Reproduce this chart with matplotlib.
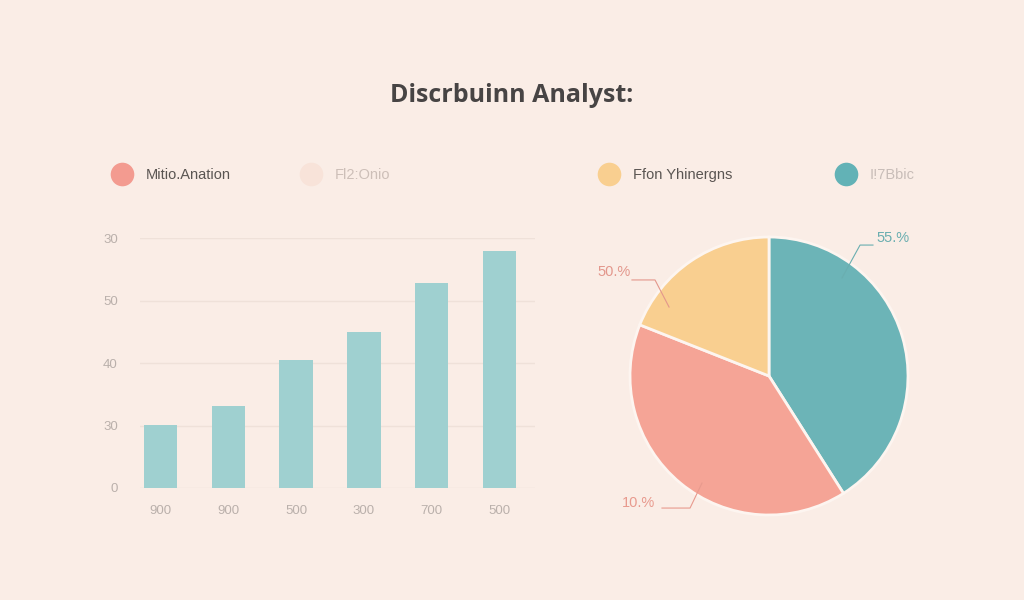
import numpy as np
import matplotlib.pyplot as plt

# bar chart data
bar_labels = ["900", "900", "500", "300", "700", "500"]
bar_values = [10.1, 13.1, 20.5, 25.0, 32.8, 37.9]
ytick_pos = [0, 10, 20, 30, 40]
ytick_labels = ["0", "30", "40", "50", "30"]

# pie data
pie_shares = [41, 40, 19]
pie_labels = ["55.%", "10.%", "50.%"]
pie_colors = ["#6cb4b7", "#f5a496", "#f9cf90"]
label_colors = ["#6aaeb0", "#e89a8e", "#e3978c"]

# legend
legend_names = ["Mitio.Anation", "Fl2:Onio", "Ffon Yhinergns", "I!7Bbic"]
legend_colors = ["#f39b90", "#f8e3d9", "#f9cf90", "#62b2b6"]
legend_text_colors = ["#5a5552", "#cdbfb8", "#5a5552", "#c8bdb8"]

bg = "#faede6"
bar_color = "#9fd0d0"

fig = plt.figure(figsize=(10.24, 6), dpi=100, facecolor=bg)

fig.text(0.5, 1 - 95 / 600, "Discrbuinn Analyst:", ha="center", va="center",
         fontsize=18, fontweight="bold", color="#474444", family="Open Sans")

# legend row
lax = fig.add_axes([0, 0, 1, 1])
lax.set_xlim(0, 1024)
lax.set_ylim(600, 0)
lax.axis("off")
lax.patch.set_alpha(0)
for cx, name, c, tc in zip([122, 311, 609, 846], legend_names, legend_colors, legend_text_colors):
    lax.plot(cx, 174, "o", ms=17, color=c, mec="none")
    lax.text(cx + 24, 175, name, ha="left", va="center", fontsize=10.5, color=tc,
             family="Liberation Sans")

# bars
ax = fig.add_axes([140 / 1024, 1 - 488 / 600, 395 / 1024, 250 / 600])
ax.set_facecolor(bg)
x = np.arange(len(bar_values))
ax.bar(x, bar_values, width=0.49, color=bar_color, zorder=2)
ax.set_xlim(-0.3, 5.52)
ax.set_ylim(0, 40)
ax.set_yticks(ytick_pos)
ax.set_yticklabels(ytick_labels)
ax.set_xticks(x)
ax.set_xticklabels(bar_labels)
ax.grid(axis="y", color="#efe1d9", linewidth=1, zorder=0)
ax.tick_params(length=0, colors="#bab0ab", labelsize=9.5)
ax.tick_params(axis="y", pad=16)
ax.tick_params(axis="x", pad=12)
for lbl in ax.get_xticklabels() + ax.get_yticklabels():
    lbl.set_family("Liberation Sans")
for s in ax.spines.values():
    s.set_visible(False)

# pie
half = 200
pax = fig.add_axes([(769 - half) / 1024, 1 - (376 + half) / 600, 2 * half / 1024, 2 * half / 600])
pax.set_facecolor("none")
pax.pie(pie_shares, colors=pie_colors, startangle=90, counterclock=False,
        wedgeprops=dict(edgecolor="#fdf5f0", linewidth=2))
lim = half / 139
pax.set_xlim(-lim, lim)
pax.set_ylim(-lim, lim)
pax.set_aspect("equal")
pax.axis("off")

leaders = [
    [(0.525, 0.705), (0.655, 0.942), (0.748, 0.942)],
    [(-0.482, -0.77), (-0.568, -0.95), (-0.77, -0.95)],
    [(-0.719, 0.496), (-0.820, 0.691), (-0.986, 0.691)],
]
text_pos = [(0.89, 0.99), (-0.94, -0.915), (-1.115, 0.75)]
for pts, tp, lab, lc in zip(leaders, text_pos, pie_labels, label_colors):
    xs, ys = zip(*pts)
    pax.plot(xs, ys, color=lc, lw=0.8, clip_on=False)
    pax.text(tp[0], tp[1], lab, ha="center", va="center", fontsize=10.5, color=lc,
             family="Liberation Sans")

fig.savefig("out.png", dpi=100, facecolor=bg)
